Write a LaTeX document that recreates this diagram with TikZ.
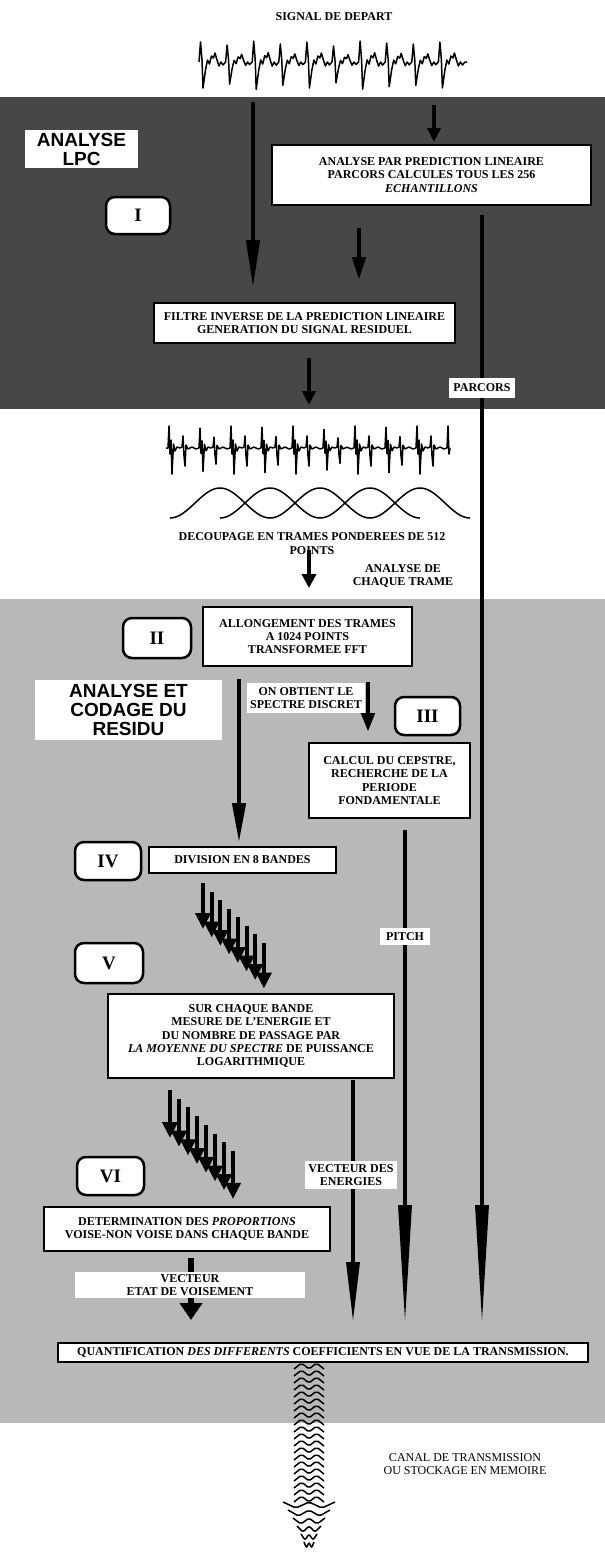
\documentclass[tikz,border=0pt]{standalone}
\usepackage{fontspec}
\setmainfont{Liberation Serif}
\newfontfamily\sansfam{Liberation Sans}
\usetikzlibrary{arrows.meta}
\begin{document}
\begin{tikzpicture}[x=1pt,y=-1pt,
  txt/.style={font=\fontsize{12}{13.3}\selectfont\bfseries, align=center, inner sep=0pt},
  box/.style={txt, draw, line width=1.5pt, fill=white},
  lab/.style={txt, fill=white},
  rbox/.style={draw, line width=2.5pt, rounded corners=9pt, fill=white, inner sep=0pt,
    font=\fontsize{19}{19}\selectfont\bfseries},
  big/.style={fill=white, inner sep=0pt, align=center,
    font=\sansfam\fontsize{19}{19}\selectfont\bfseries},
  arr/.style={line width=4.5pt},
  sig/.style={line width=1.5pt, line join=round},
  longhead/.style={fill=black}
]
\useasboundingbox (0,0) rectangle (605,1559);
% backgrounds
\fill[black!72] (0,97) rectangle (605,409);
\fill[black!28] (0,599) rectangle (605,1423);

% starting signal
\draw[sig] (199,62) \foreach \a in {1,0.85,1.05,0.9,1,0.8,1.05,0.95,0.9,1} {
  -- ++(1.5,-20*\a) -- ++(1.5,18*\a) -- ++(1,28*\a) -- ++(2.5,-18*\a) -- ++(2,-10*\a)
  -- ++(2,4*\a) -- ++(2,-8*\a) -- ++(2,2*\a) -- ++(1.5,-5*\a) -- ++(2,7*\a)
  -- ++(2,6*\a) -- ++(2,-4*\a) -- ++(2,3*\a) -- ++(2.6,-3*\a) } -- ++(2,0);

% residual signal
\draw[sig] (166,448) -- (168,448) \foreach \a in {1,0.9,1,0.95,1,0.85,1,0.95,1} {
  -- ++(1,-22*\a) -- ++(1,28*\a) -- ++(1,-14*\a) -- ++(1,34*\a) -- ++(1.5,-30*\a)
  -- ++(1.5,7*\a) -- ++(2,-4*\a) -- ++(3,1*\a) -- ++(2,-1*\a) -- ++(1,-11*\a)
  -- ++(1,20*\a) -- ++(1,10*\a) -- ++(1,-21*\a) -- ++(2,4*\a) -- ++(4,-2*\a)
  -- ++(4,2*\a) -- ++(3,-1*\a) } -- ++(1,-22) -- ++(1,28) -- ++(1,-6);

% windows
\foreach \s in {170,220,270,320,370}
  \draw[line width=1.5pt] plot[domain=0:1, samples=40, smooth]
    ({\s+100*\x},{518-30*(0.5-0.5*cos(360*\x))});

% named end points
\coordinate (a1s) at (253,102); \coordinate (a1e) at (253,288);
\coordinate (a2s) at (434,105); \coordinate (a2e) at (434,142);
\coordinate (a3s) at (359,228); \coordinate (a3e) at (359,280);
\coordinate (a4s) at (309,358); \coordinate (a4e) at (309,405);
\coordinate (a5s) at (309,550); \coordinate (a5e) at (309,588);
\coordinate (a6s) at (239,679); \coordinate (a6e) at (239,843);
\coordinate (a7s) at (368,682); \coordinate (a7e) at (368,732);
\coordinate (pas) at (482,215); \coordinate (pab) at (482,1205); \coordinate (pae) at (482,1320);
\coordinate (pis) at (405,830); \coordinate (pib) at (405,1205); \coordinate (pie) at (405,1320);
\coordinate (ves) at (353,1080); \coordinate (veb) at (353,1262); \coordinate (vee) at (353,1320);
\coordinate (vis) at (191,1258); \coordinate (vie) at (191,1320);

\draw[arr,-{Triangle[length=48pt,width=13pt]}] (a1s) -- (a1e);
\draw[arr,-{Triangle[length=14pt,width=13pt]}] (a2s) -- (a2e);
\draw[arr,-{Triangle[length=23pt,width=13pt]}] (a3s) -- (a3e);
\draw[arr,-{Triangle[length=14pt,width=13pt]}] (a4s) -- (a4e);
\draw[arr,-{Triangle[length=14pt,width=14pt]}] (a5s) -- (a5e);
\draw[arr,-{Triangle[length=40pt,width=13pt]}] (a6s) -- (a6e);
\draw[arr,-{Triangle[length=19pt,width=13pt]}] (a7s) -- (a7e);
% long output lines with long slender heads
\draw[arr] (pas) -- ([yshift=-5pt]pab);
\fill[longhead] ([xshift=-7pt]pab) -- ([xshift=7pt]pab) -- (pae) -- cycle;
\draw[arr] (pis) -- ([yshift=-5pt]pib);
\fill[longhead] ([xshift=-7pt]pib) -- ([xshift=7pt]pib) -- (pie) -- cycle;
\draw[arr] (ves) -- ([yshift=-5pt]veb);
\fill[longhead] ([xshift=-7pt]veb) -- ([xshift=7pt]veb) -- (vee) -- cycle;
\draw[line width=6pt,-{Triangle[length=17pt,width=22pt]}] (vis) -- (vie);

% cascades of arrows
\foreach \i in {0,...,7}
  \draw[line width=4pt,-{Triangle[length=16pt,width=15pt]}] ({203+8.7*\i},{883+8.5*\i}) -- ++(0,46);
\foreach \i in {0,...,7}
  \draw[line width=4pt,-{Triangle[length=16pt,width=15pt]}] ({170+9*\i},{1090+8.7*\i}) -- ++(0,48);

% wavy transmission arrow
\foreach \k in {0,...,19}
  \draw[line width=1.5pt, rounded corners=2pt] ({294},{1369+7*\k}) -- ++(7.5,-6) -- ++(7.5,6) -- ++(7.5,-6) -- ++(7.5,6);
\foreach \w/\yy in {26/1505,21/1513,16/1521,12/1529,8/1537,5/1545}
  \draw[line width=1.5pt, rounded corners=2pt] ({309-\w},{\yy-3}) -- ++(\w/2,6) -- ++(\w/2,-6) -- ++(\w/2,6) -- ++(\w/2,-6);

% nodes
\node[txt] (title) at (334,17) {SIGNAL DE DEPART};
\node[big, minimum width=113pt, minimum height=38pt] (lpc) at (81.5,149) {ANALYSE\\LPC};
\node[rbox, minimum width=64pt, minimum height=37pt] (r1) at (138,215.5) {I};
\node[box, minimum width=319pt, minimum height=60pt] (anpar) at (431.5,175)
  {ANALYSE PAR PREDICTION LINEAIRE\\PARCORS CALCULES TOUS LES 256\\\textit{ECHANTILLONS}};
\node[box, minimum width=301pt, minimum height=40pt] (filtre) at (304.5,323)
  {FILTRE INVERSE DE LA PREDICTION LINEAIRE\\GENERATION DU SIGNAL RESIDUEL};
\node[lab, minimum width=66pt, minimum height=20pt] (parcors) at (482,388) {PARCORS};
\node[txt] (decoup) at (312,543.5) {DECOUPAGE EN TRAMES PONDEREES DE 512\\POINTS};
\node[txt] (chaque) at (403,576) {ANALYSE DE\\CHAQUE TRAME};
\node[rbox, minimum width=68pt, minimum height=40pt] (r2) at (157,638) {II};
\node[box, minimum width=209pt, minimum height=59pt] (allong) at (307.5,636.5)
  {ALLONGEMENT DES TRAMES\\A 1024 POINTS\\TRANSFORMEE FFT};
\node[big, minimum width=187pt, minimum height=60pt] (codage) at (128.5,710) {ANALYSE ET\\CODAGE DU\\RESIDU};
\node[lab, minimum width=118pt, minimum height=30pt] (obtient) at (306,698) {ON OBTIENT LE\\SPECTRE DISCRET};
\node[rbox, minimum width=65pt, minimum height=38pt] (r3) at (427.5,716) {III};
\node[box, minimum width=161pt, minimum height=75pt] (calcul) at (389.5,780.5)
  {CALCUL DU CEPSTRE,\\RECHERCHE DE LA\\PERIODE\\FONDAMENTALE};
\node[rbox, minimum width=66pt, minimum height=38pt] (r4) at (108,861) {IV};
\node[box, minimum width=187pt, minimum height=26pt] (division) at (242.5,860) {DIVISION EN 8 BANDES};
\node[lab, minimum width=50pt, minimum height=17pt] (pitch) at (405,936.5) {PITCH};
\node[rbox, minimum width=68pt, minimum height=40pt] (r5) at (109,963) {V};
\node[box, minimum width=286pt, minimum height=84pt] (sur) at (251,1036)
  {SUR CHAQUE BANDE\\MESURE DE L'ENERGIE ET\\DU NOMBRE DE PASSAGE PAR\\\textit{LA MOYENNE DU SPECTRE} DE PUISSANCE\\LOGARITHMIQUE};
\node[rbox, minimum width=67pt, minimum height=38pt] (r6) at (110.5,1176) {VI};
\node[lab, minimum width=92pt, minimum height=28pt] (vecten) at (351,1175) {VECTEUR DES\\ENERGIES};
\node[box, minimum width=286pt, minimum height=44pt] (determ) at (187,1229)
  {DETERMINATION DES \textit{PROPORTIONS}\\VOISE-NON VOISE DANS CHAQUE BANDE};
\node[lab, minimum width=230pt, minimum height=26pt] (vectetat) at (190,1285) {VECTEUR\\ETAT DE VOISEMENT};
\node[box, minimum width=530pt, minimum height=19pt] (quant) at (323,1352.5)
  {QUANTIFICATION \textit{DES DIFFERENTS} COEFFICIENTS EN VUE DE LA TRANSMISSION.};
\node[txt, font=\fontsize{12}{13.3}\selectfont] (canal) at (465,1464) {CANAL DE TRANSMISSION\\OU STOCKAGE EN MEMOIRE};
\end{tikzpicture}
\end{document}
